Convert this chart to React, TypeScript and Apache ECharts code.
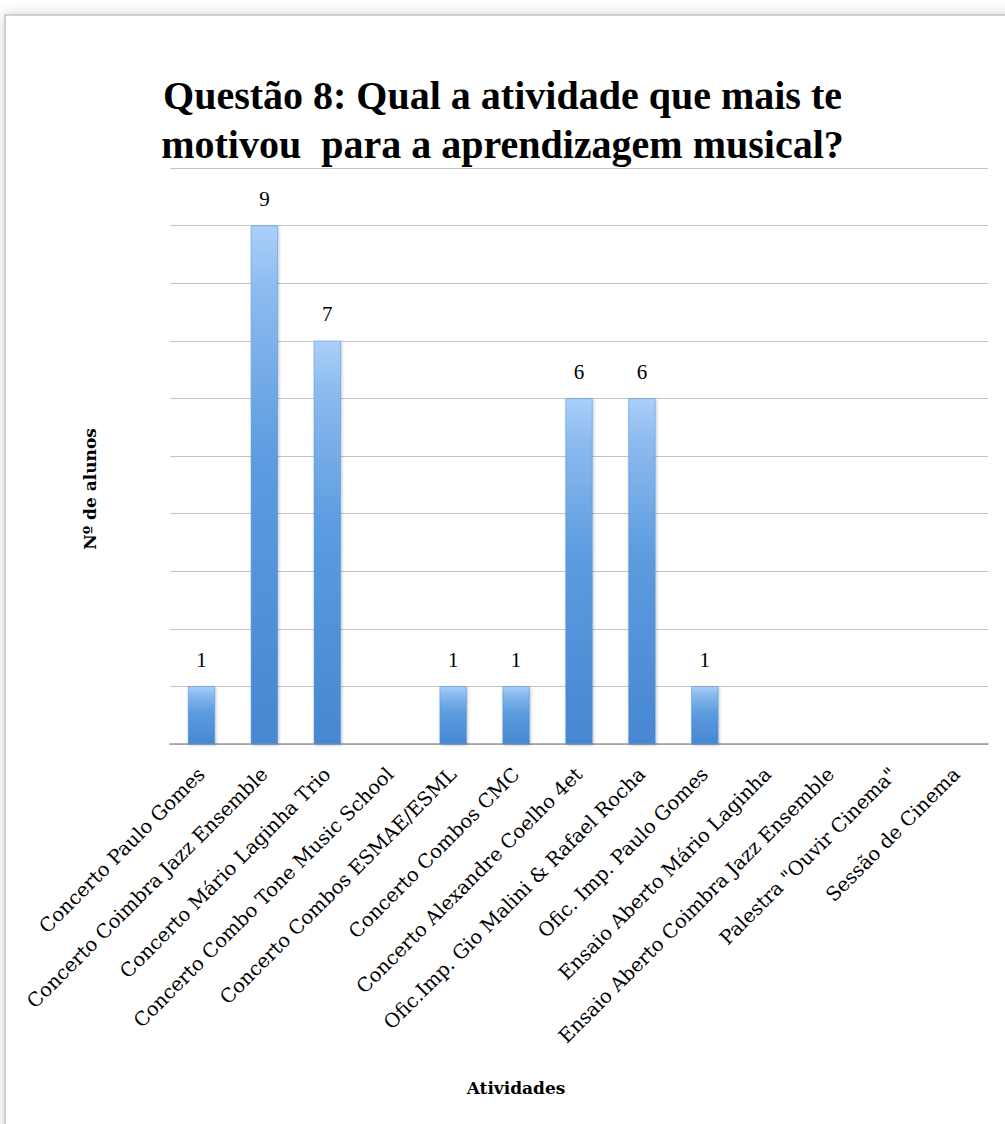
import React, { useEffect, useRef } from "react";
import * as echarts from "echarts";

const categories: string[] = [
  "Concerto Paulo Gomes",
  "Concerto Coimbra Jazz Ensemble",
  "Concerto Mário Laginha Trio",
  "Concerto Combo Tone Music School",
  "Concerto Combos ESMAE/ESML",
  "Concerto Combos CMC",
  "Concerto Alexandre Coelho 4et",
  "Ofic.Imp. Gio Malini & Rafael Rocha",
  "Ofic. Imp. Paulo Gomes",
  "Ensaio Aberto Mário Laginha",
  "Ensaio Aberto Coimbra Jazz Ensemble",
  "Palestra \"Ouvir Cinema\"",
  "Sessão de Cinema",
];

const values: (number | null)[] = [1, 9, 7, null, 1, 1, 6, 6, 1, null, null, null, null];

const titleText = "Questão 8: Qual a atividade que mais te\nmotivou  para a aprendizagem musical?";
const yAxisTitle = "Nº de alunos";
const xAxisTitle = "Atividades";

export default function App() {
  const ref = useRef<HTMLDivElement>(null);
  useEffect(() => {
    if (!ref.current) return;
    const chart = echarts.init(ref.current, null, { renderer: "svg" });
    const serif = "Liberation Serif";
    const labelSerif = "DejaVu Serif";
    chart.setOption({
      animation: false,
      backgroundColor: "#ffffff",
      title: {
        text: titleText,
        left: "center",
        top: 66,
        textStyle: {
          fontFamily: serif,
          fontWeight: "bold",
          fontSize: 40,
          lineHeight: 49,
          color: "#000",
        },
      },
      graphic: [
        {
          type: "rect",
          z: -10,
          shape: { x: 5, y: 15, width: 1100, height: 1200 },
          style: {
            fill: "#ffffff",
            stroke: "#a6a6a6",
            lineWidth: 1,
            shadowBlur: 14,
            shadowColor: "rgba(0,0,0,0.18)",
          },
          silent: true,
        },
        {
          type: "text",
          x: 90,
          y: 489,
          rotation: Math.PI / 2,
          style: {
            text: yAxisTitle,
            fontFamily: labelSerif,
            fontWeight: "bold",
            fontSize: 17,
            fill: "#000",
            textAlign: "center",
            textVerticalAlign: "middle",
          },
        },
        {
          type: "text",
          x: 516,
          y: 1088,
          style: {
            text: xAxisTitle,
            fontFamily: labelSerif,
            fontWeight: "bold",
            fontSize: 17,
            fill: "#000",
            textAlign: "center",
            textVerticalAlign: "middle",
          },
        },
      ],
      grid: { left: 170, right: 17, top: 168, bottom: 380 },
      xAxis: {
        type: "category",
        data: categories,
        axisTick: { show: false },
        axisLine: { lineStyle: { color: "#9a9a9a", width: 1.5 } },
        axisLabel: {
          interval: 0,
          rotate: 45,
          margin: 27,
          fontFamily: labelSerif,
          fontSize: 19.5,
          color: "#000",
        },
      },
      yAxis: {
        type: "value",
        min: 0,
        max: 10,
        interval: 1,
        axisLabel: { show: false },
        axisLine: { show: false },
        axisTick: { show: false },
        splitLine: { lineStyle: { color: "#c4c4c4", width: 1 } },
      },
      series: [
        {
          type: "bar",
          data: values,
          barWidth: 27,
          itemStyle: {
            color: new echarts.graphic.LinearGradient(0, 0, 0, 1, [
              { offset: 0, color: "#aad0fa" },
              { offset: 0.12, color: "#8dbbef" },
              { offset: 0.45, color: "#5c9cdf" },
              { offset: 1, color: "#4787d2" },
            ]),
            borderColor: "#4f8fd6",
            borderWidth: 0.5,
            shadowBlur: 3,
            shadowColor: "rgba(0,0,0,0.25)",
            shadowOffsetX: 1,
            shadowOffsetY: 1,
          },
          label: {
            show: true,
            position: "top",
            distance: 16,
            fontFamily: serif,
            fontSize: 21,
            color: "#000",
          },
        },
      ],
    });
    return () => chart.dispose();
  }, []);
  return (
    <div
      ref={ref}
      style={{ position: "fixed", left: 0, top: 0, width: 1005, height: 1124 }}
    />
  );
}
